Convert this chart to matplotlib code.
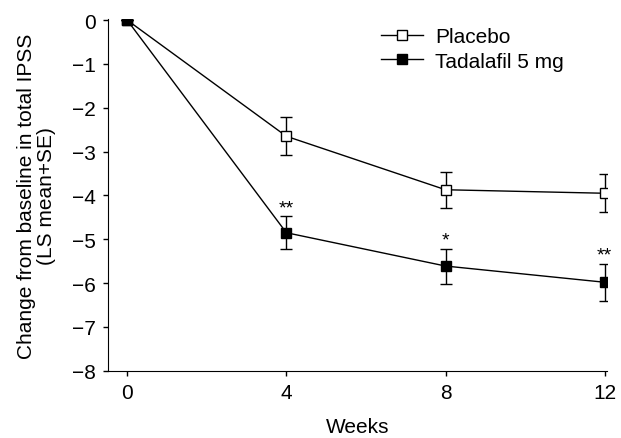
import matplotlib
matplotlib.use("Agg")
import matplotlib.pyplot as plt
from matplotlib.lines import Line2D

plt.rcParams['font.family'] = ['Liberation Sans', 'DejaVu Sans']

weeks = [0, 4, 8, 12]
placebo_mean = [0, -2.65, -3.87, -3.95]
placebo_se = [0, 0.43, 0.41, 0.43]
tadalafil_mean = [0, -4.85, -5.61, -5.98]
tadalafil_se = [0, 0.38, 0.40, 0.42]
sig_labels = ['', '**', '*', '**']
x_ticks = [0, 4, 8, 12]
y_ticks = [0, -1, -2, -3, -4, -5, -6, -7, -8]

FS = 15

fig = plt.figure(figsize=(6.21, 4.39), dpi=100)
ax = fig.add_axes([0.174, 0.153, 0.803, 0.801])

ax.errorbar(weeks, placebo_mean, yerr=placebo_se, color='black', lw=1.0,
            marker='s', markersize=7, markerfacecolor='white', markeredgecolor='black',
            markeredgewidth=1.0, capsize=4.5, capthick=1.0, elinewidth=1.0, zorder=3)
ax.errorbar(weeks, tadalafil_mean, yerr=tadalafil_se, color='black', lw=1.0,
            marker='s', markersize=7, markerfacecolor='black', markeredgecolor='black',
            markeredgewidth=1.0, capsize=4.5, capthick=1.0, elinewidth=1.0, zorder=4)

for x, m, s, lab in zip(weeks, tadalafil_mean, tadalafil_se, sig_labels):
    if lab:
        ax.annotate(lab, (x, m + s), xytext=(0, 0), textcoords='offset points',
                    ha='center', va='bottom', fontsize=14)

ax.set_xlim(-0.48, 12.05)
ax.set_ylim(-8, 0.02)
ax.set_xticks(x_ticks)
ax.set_yticks(y_ticks)
ax.set_yticklabels([str(v).replace('-', '\u2212') for v in y_ticks])
ax.tick_params(axis='both', labelsize=FS, length=3.5, width=1.0, direction='out', pad=5)
ax.spines['top'].set_visible(False)
ax.spines['right'].set_visible(False)
ax.set_xlabel('Weeks', fontsize=FS, labelpad=11)
ax.set_ylabel('Change from baseline in total IPSS\n(LS mean+SE)', fontsize=FS,
              labelpad=12, linespacing=1.05)

handles = [
    Line2D([], [], color='black', lw=1.0, marker='s', markersize=7,
           markerfacecolor='white', markeredgecolor='black'),
    Line2D([], [], color='black', lw=1.0, marker='s', markersize=7,
           markerfacecolor='black', markeredgecolor='black'),
]
ax.legend(handles, ['Placebo', 'Tadalafil 5 mg'], loc='upper left',
          bbox_to_anchor=(0.51, 1.03), frameon=False, fontsize=FS,
          handlelength=2.0, handletextpad=0.6, labelspacing=0.25)

fig.savefig('out.png', dpi=100)
